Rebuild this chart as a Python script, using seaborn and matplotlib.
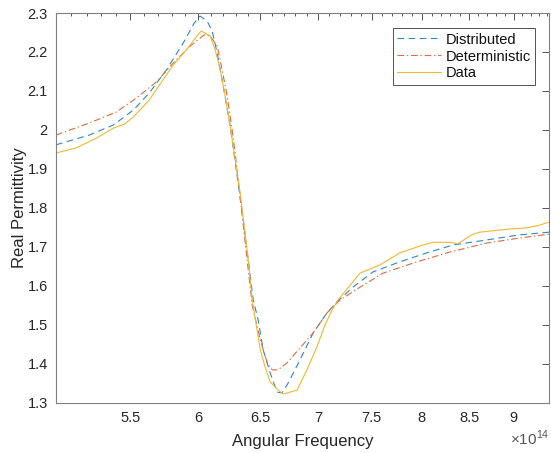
import numpy as np
import pandas as pd
import seaborn as sns
import matplotlib.pyplot as plt
from matplotlib.ticker import FixedLocator, FuncFormatter, NullFormatter

# angular frequency in units of 1e14 rad/s
x_data = [5.00, 5.131, 5.266, 5.383, 5.459, 5.522, 5.637, 5.710, 5.814, 5.910, 5.986, 6.026,
          6.096, 6.135, 6.175, 6.214, 6.254, 6.335, 6.401, 6.434, 6.501, 6.541, 6.584, 6.642,
          6.694, 6.754, 6.815, 6.902, 6.991, 7.064, 7.128, 7.183, 7.389, 7.581, 7.778, 8.011,
          8.114, 8.293, 8.377, 8.528, 8.615, 8.955, 9.153, 9.307, 9.42]
y_data = [1.941, 1.954, 1.979, 2.005, 2.015, 2.033, 2.077, 2.115, 2.167, 2.205, 2.238, 2.254,
          2.241, 2.205, 2.154, 2.087, 2.010, 1.838, 1.667, 1.564, 1.436, 1.392, 1.354, 1.336,
          1.323, 1.328, 1.333, 1.385, 1.444, 1.500, 1.538, 1.564, 1.633, 1.654, 1.685, 1.705,
          1.712, 1.712, 1.708, 1.731, 1.738, 1.746, 1.749, 1.756, 1.764]

x_dist = [5.00, 5.219, 5.383, 5.522, 5.637, 5.762, 5.888, 5.971, 6.017, 6.072, 6.111, 6.151,
          6.198, 6.254, 6.360, 6.442, 6.483, 6.525, 6.584, 6.642, 6.685, 6.737, 6.840, 6.956,
          7.082, 7.173, 7.322, 7.513, 7.778, 8.052, 8.325, 8.693, 9.071, 9.42]
y_dist = [1.962, 1.987, 2.013, 2.051, 2.095, 2.154, 2.223, 2.274, 2.292, 2.279, 2.254, 2.197,
          2.113, 2.010, 1.769, 1.564, 1.513, 1.436, 1.377, 1.328, 1.326, 1.351, 1.410, 1.479,
          1.531, 1.559, 1.597, 1.636, 1.662, 1.685, 1.705, 1.718, 1.731, 1.738]

x_det = [5.00, 5.219, 5.403, 5.544, 5.688, 5.814, 5.933, 6.049, 6.096, 6.151, 6.190, 6.230,
         6.270, 6.294, 6.434, 6.501, 6.559, 6.600, 6.651, 6.728, 6.840, 6.956, 7.082, 7.201,
         7.389, 7.611, 7.950, 8.293, 8.693, 9.071, 9.42]
y_det = [1.987, 2.018, 2.046, 2.082, 2.123, 2.172, 2.213, 2.244, 2.241, 2.215, 2.154, 2.087,
         2.000, 1.941, 1.550, 1.462, 1.403, 1.385, 1.385, 1.403, 1.441, 1.479, 1.531, 1.564,
         1.597, 1.633, 1.662, 1.687, 1.710, 1.723, 1.733]

x_major = [5.5, 6, 6.5, 7, 7.5, 8, 8.5, 9]
y_ticks = [1.3, 1.4, 1.5, 1.6, 1.7, 1.8, 1.9, 2.0, 2.1, 2.2, 2.3]

sns.set_style("white")
plt.rcParams['font.family'] = ['Liberation Sans', 'DejaVu Sans']
plt.rcParams['mathtext.fontset'] = 'custom'
plt.rcParams['mathtext.rm'] = 'Liberation Sans'

fig = plt.figure(figsize=(5.51, 4.53), dpi=100)
ax = fig.add_axes([0.1016, 0.1104, 0.8948, 0.8609])

sns.lineplot(x=np.array(x_dist) * 1e14, y=y_dist, ax=ax, color="#2A88CC", lw=0.8,
             linestyle=(0, (6, 4)), label="Distributed")
sns.lineplot(x=np.array(x_det) * 1e14, y=y_det, ax=ax, color="#DE6A3E", lw=0.8,
             linestyle=(0, (6, 2.5, 1.2, 2.5)), label="Deterministic")
sns.lineplot(x=np.array(x_data) * 1e14, y=y_data, ax=ax, color="#EFB830", lw=0.8,
             linestyle="-", label="Data")

ax.set_xscale("log")
ax.set_xlim(5.0e14, 9.42e14)
ax.set_ylim(1.3, 2.3)
ax.xaxis.set_major_locator(FixedLocator([v * 1e14 for v in x_major]))
minors = [round(v, 1) for v in np.arange(5.1, 9.45, 0.1)]
ax.xaxis.set_minor_locator(FixedLocator([v * 1e14 for v in minors if v not in x_major]))
ax.xaxis.set_major_formatter(FuncFormatter(lambda v, p: f"{v / 1e14:g}"))
ax.xaxis.set_minor_formatter(NullFormatter())
ax.set_yticks(y_ticks)
ax.yaxis.set_major_formatter(FuncFormatter(lambda v, p: f"{v:g}"))

grey = "#262626"
for s in ax.spines.values():
    s.set_color("#808080")
    s.set_linewidth(0.8)
ax.tick_params(which="both", direction="in", top=True, right=True, colors="#555555",
               labelcolor=grey, labelsize=10.5, width=0.7)
ax.tick_params(which="major", length=5, pad=6)
ax.tick_params(which="minor", length=2.5)

ax.set_xlabel("Angular Frequency", fontsize=12, color=grey, labelpad=6)
ax.set_ylabel("Real Permittivity", fontsize=12, color=grey, labelpad=0)
fig.text(0.998, 0.012, r"$\times10^{14}$", ha="right", va="bottom", fontsize=11, color="#555555")

leg = ax.legend(loc="upper right", bbox_to_anchor=(0.972, 0.961), fontsize=10.5, frameon=True,
                fancybox=False, handlelength=3.0, handletextpad=0.3, borderpad=0.3,
                labelspacing=0.2, borderaxespad=0)
leg.get_frame().set_edgecolor(grey)
leg.get_frame().set_linewidth(0.7)
for t in leg.get_texts():
    t.set_color("#111111")

fig.savefig("out.png", dpi=100)
